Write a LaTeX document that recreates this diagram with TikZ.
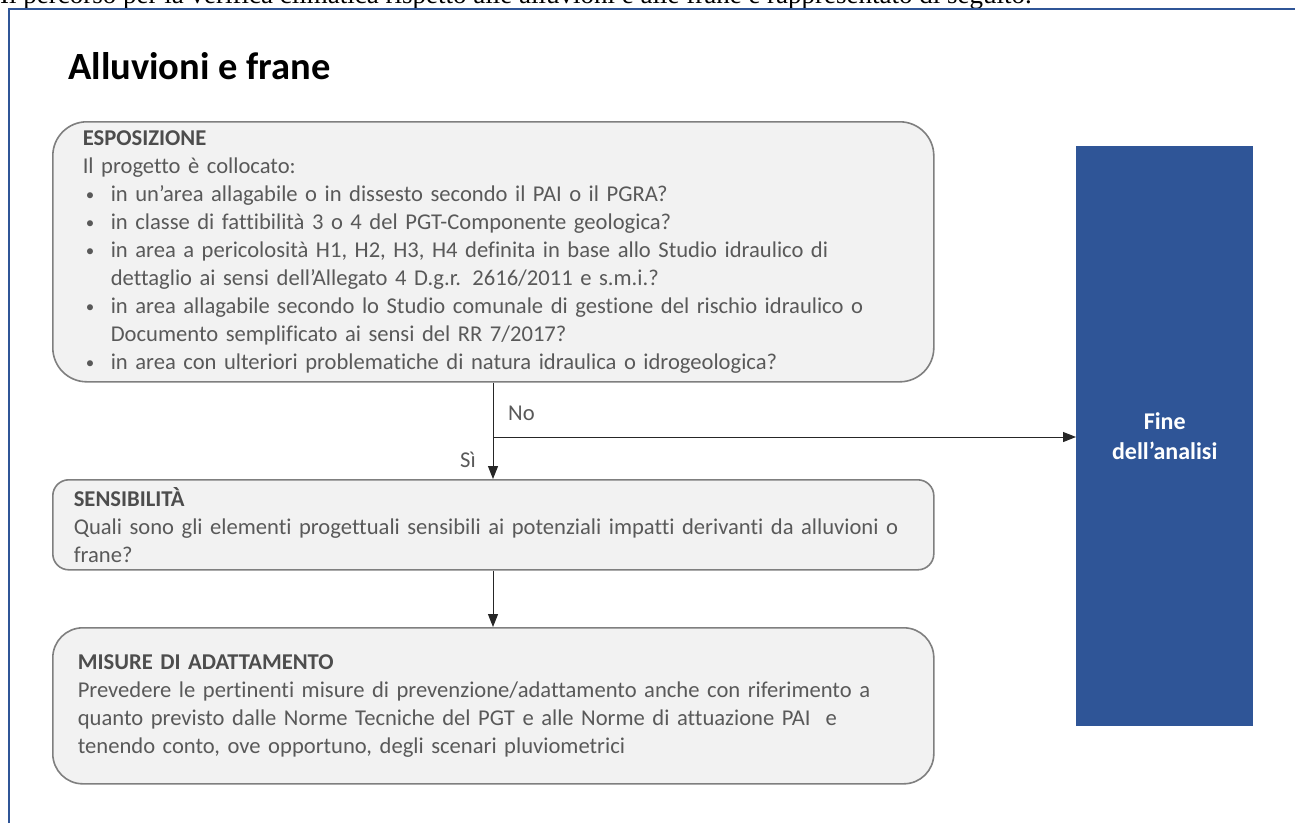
\documentclass[tikz,border=0pt]{standalone}
\usepackage{fontspec}
\setmainfont{Carlito}[Ligatures=NoCommon]
\newfontfamily\timesf{Liberation Serif}
\usetikzlibrary{arrows.meta}
\definecolor{frameblue}{HTML}{2F5597}
\definecolor{boxfill}{HTML}{F2F2F2}
\definecolor{boxdraw}{HTML}{7F7F7F}
\definecolor{txtgray}{HTML}{595959}
\definecolor{hdgray}{HTML}{4D4D4D}
\newcommand{\bul}[1]{\makebox[28pt][l]{\hspace{3pt}\raisebox{0.5pt}{\fontsize{17}{17}\selectfont•}}#1}
\newcommand{\cont}[1]{\hspace*{28pt}#1}
\begin{document}
\begin{tikzpicture}[x=1pt,y=-1pt,
  flowbox/.style={draw=boxdraw, fill=boxfill, line width=1.6pt, anchor=north west,
    align=left, text=txtgray, font=\fontsize{22.6}{28}\selectfont},
  endbox/.style={fill=frameblue, anchor=north west, align=center, text=white,
    font=\bfseries\fontsize{24}{30}\selectfont, inner sep=0pt},
  conn/.style={line width=1pt, black!85, -{Triangle[length=13pt,width=10pt]}},
  lbl/.style={text=txtgray, font=\fontsize{22.6}{28}\selectfont}]
\useasboundingbox (0,0) rectangle (1295,823);
\fill[white] (0,0) rectangle (1295,823);
\node[anchor=base west, inner sep=0pt, font=\timesf\fontsize{27}{30}\selectfont] (intro) at (0,3)
  {Il percorso per la verifica climatica rispetto alle alluvioni e alle frane è rappresentato di seguito.};
\draw[frameblue, line width=2pt] (9,823) -- (9,9) -- (1295,9);
\node[anchor=base west, inner sep=0pt, font=\bfseries\fontsize{38.5}{44}\selectfont] (title) at (68,79) {Alluvioni e frane};

\node[flowbox, rounded corners=34pt, minimum width=881pt, minimum height=260pt,
  text width=821pt, inner xsep=30pt, inner ysep=0pt] (esp) at (52,121)
  {{\bfseries\color{hdgray}ESPOSIZIONE}\\
   Il progetto è collocato:\\
   \bul{in un’area allagabile o in dissesto secondo il PAI o il PGRA?}\\
   \bul{in classe di fattibilità 3 o 4 del PGT-Componente geologica?}\\
   \bul{in area a pericolosità H1, H2, H3, H4 definita in base allo Studio idraulico di}\\
   \cont{dettaglio ai sensi dell’Allegato 4 D.g.r. 2616/2011 e s.m.i.?}\\
   \bul{in area allagabile secondo lo Studio comunale di gestione del rischio idraulico o}\\
   \cont{Documento semplificato ai sensi del RR 7/2017?}\\
   \bul{in area con ulteriori problematiche di natura idraulica o idrogeologica?}};

\node[flowbox, rounded corners=16pt, minimum width=881pt, minimum height=90pt,
  text width=845pt, inner xsep=18pt, inner ysep=0pt] (sens) at (52,479)
  {\hspace*{3pt}{\bfseries\color{hdgray}SENSIBILITÀ}\\
   \hspace*{3pt}Quali sono gli elementi progettuali sensibili ai potenziali impatti derivanti da alluvioni o\\
   \hspace*{3pt}frane?};

\node[flowbox, rounded corners=30pt, minimum width=881pt, minimum height=156pt,
  text width=831pt, inner xsep=25pt, inner ysep=0pt] (mis) at (52,627)
  {{\bfseries\color{hdgray}MISURE DI ADATTAMENTO}\\
   Prevedere le pertinenti misure di prevenzione/adattamento anche con riferimento a\\
   quanto previsto dalle Norme Tecniche del PGT e alle Norme di attuazione PAI\ \ e\\
   tenendo conto, ove opportuno, degli scenari pluviometrici};

\node[endbox, minimum width=177pt, minimum height=580pt] (fine) at (1076,146)
  {Fine\\dell’analisi};

\coordinate (split) at (493,437);
\draw[conn] (esp.south -| split) -- (sens.north -| split);
\draw[conn] (split) -- (fine.west |- split);
\draw[conn] (sens.south -| split) -- (mis.north -| split);

\node[lbl, anchor=west, inner sep=0pt] (no) at (508,413) {No};
\node[lbl, anchor=east, inner sep=0pt] (si) at (476,460) {Sì};
\end{tikzpicture}
\end{document}
